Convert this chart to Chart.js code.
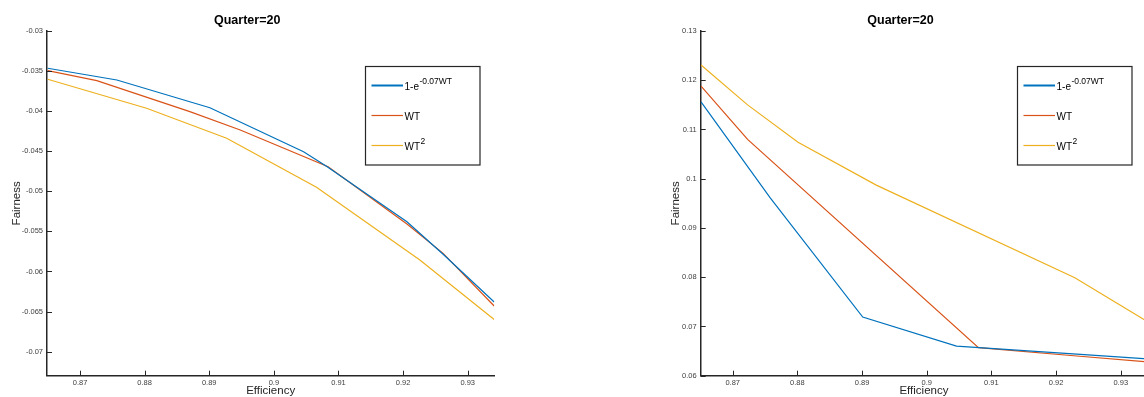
<!DOCTYPE html>
<html><head><meta charset="utf-8">
<script src="https://cdn.jsdelivr.net/npm/chart.js@4"></script>
<style>
html,body{margin:0;padding:0;background:#fff;overflow:hidden;width:1144px;height:397px;position:relative}
canvas{position:absolute;top:0}
#c1{left:0}
#c2{left:572px}
</style></head><body>
<canvas id="c1" width="572" height="397"></canvas>
<canvas id="c2" width="600" height="397"></canvas>
<script>
// ---- text ----
const chartTitle = 'Quarter=20';
const xAxisTitle = 'Efficiency';
const yAxisTitle = 'Fairness';
const seriesLabels = ['1-e^-0.07WT', 'WT', 'WT^2'];
const legendBase = ['1-e', 'WT', 'WT'];
const legendSup = ['-0.07WT', '', '2'];
const seriesColors = ['#0072BD', '#D95319', '#EDB120'];

// ---- ticks ----
const xTicks = [0.87, 0.88, 0.89, 0.90, 0.91, 0.92, 0.93];
const leftYTicks = [-0.07, -0.065, -0.06, -0.055, -0.05, -0.045, -0.04, -0.035, -0.03];
const rightYTicks = [0.06, 0.07, 0.08, 0.09, 0.10, 0.11, 0.12, 0.13];

// ---- left panel data ----
const leftExpX = [0.8650, 0.8757, 0.8901, 0.9046, 0.9082, 0.9206, 0.9262, 0.9341];
const leftExpY = [-0.03465, -0.03611, -0.03957, -0.04506, -0.04690, -0.05379, -0.05785, -0.06380];
const leftWtX  = [0.8650, 0.8726, 0.8870, 0.8948, 0.9084, 0.9206, 0.9262, 0.9341];
const leftWtY  = [-0.03495, -0.03620, -0.04006, -0.04235, -0.04693, -0.05408, -0.05774, -0.06430];
const leftWt2X = [0.8650, 0.8803, 0.8927, 0.9066, 0.9226, 0.9341];
const leftWt2Y = [-0.03602, -0.03964, -0.04338, -0.04950, -0.05857, -0.06600];

// ---- right panel data ----
const rightExpX = [0.8651, 0.8758, 0.8901, 0.9046, 0.9232, 0.9341];
const rightExpY = [0.1156, 0.0961, 0.0719, 0.0660, 0.0644, 0.0634];
const rightWtX  = [0.8651, 0.8723, 0.9080, 0.9232, 0.9341];
const rightWtY  = [0.1188, 0.1080, 0.0657, 0.0640, 0.0628];
const rightWt2X = [0.8651, 0.8723, 0.8801, 0.8922, 0.9229, 0.9341];
const rightWt2Y = [0.1231, 0.1150, 0.1074, 0.0987, 0.0799, 0.0710];

const FONT = '"Liberation Sans", Arial, Helvetica, sans-serif';
const AXIS = '#262626';
const fmt = v => String(parseFloat(Number(v).toFixed(4)));

const inwardTicks = {
  id: 'inwardTicks',
  afterDraw(chart) {
    const ctx = chart.ctx, a = chart.chartArea, xs = chart.scales.x, ys = chart.scales.y;
    ctx.save();
    ctx.strokeStyle = AXIS; ctx.lineWidth = 1;
    xs.ticks.forEach(t => {
      const p = Math.round(xs.getPixelForValue(t.value)) + 0.5;
      ctx.beginPath(); ctx.moveTo(p, a.bottom); ctx.lineTo(p, a.bottom - 5); ctx.stroke();
    });
    ys.ticks.forEach(t => {
      const p = Math.round(ys.getPixelForValue(t.value)) + 0.5;
      ctx.beginPath(); ctx.moveTo(a.left, p); ctx.lineTo(a.left + 5, p); ctx.stroke();
    });
    ctx.restore();
  }
};

const legendBox = {
  id: 'legendBox',
  afterDraw(chart) {
    const ctx = chart.ctx, a = chart.chartArea;
    const w = 114.5, h = 98.5;
    const x0 = Math.round(a.right - 15.3 - w) + 0.5, y0 = Math.round(a.top + 34.5) + 0.5;
    ctx.save();
    ctx.fillStyle = '#fff'; ctx.fillRect(x0, y0, w, h);
    ctx.strokeStyle = AXIS; ctx.lineWidth = 1.2; ctx.strokeRect(x0, y0, w, h);
    chart.data.datasets.forEach((ds, i) => {
      const y = y0 + 19 + 30 * i;
      ctx.strokeStyle = ds.borderColor; ctx.lineWidth = i === 0 ? 2 : 1.2;
      ctx.beginPath(); ctx.moveTo(x0 + 6, y); ctx.lineTo(x0 + 37.5, y); ctx.stroke();
      ctx.fillStyle = '#000'; ctx.textAlign = 'left'; ctx.textBaseline = 'alphabetic';
      ctx.font = '10px ' + FONT;
      ctx.fillText(legendBase[i], x0 + 39, y + 4);
      const bw = ctx.measureText(legendBase[i]).width;
      if (legendSup[i]) {
        ctx.font = '8.5px ' + FONT;
        ctx.fillText(legendSup[i], x0 + 39 + bw + 0.5, y - 1.5);
      }
    });
    ctx.restore();
  }
};

function makeChart(id, xs, ys, yTicks, xMin, xMax, yMin, yMax, padLeft, padRight, yTitlePad) {
  const datasets = xs.map((xArr, k) => ({
    label: seriesLabels[k],
    data: xArr.map((x, i) => ({ x: x, y: ys[k][i] })),
    showLine: true, borderColor: seriesColors[k], backgroundColor: seriesColors[k],
    borderWidth: 1.2, pointRadius: 0, tension: 0, fill: false
  }));
  return new Chart(document.getElementById(id), {
    type: 'scatter',
    data: { datasets: datasets },
    options: {
      responsive: false, animation: false, devicePixelRatio: 1,
      layout: { padding: { left: padLeft, right: padRight, top: 0, bottom: 0 } },
      plugins: {
        legend: { display: false }, tooltip: { enabled: false },
        title: { display: true, text: chartTitle, color: '#000',
          font: { family: FONT, size: 12.5, weight: 'bold' }, padding: { top: 13.5, bottom: 2.5 } }
      },
      scales: {
        x: {
          type: 'linear', min: xMin, max: xMax,
          afterBuildTicks: s => { s.ticks = xTicks.map(v => ({ value: v })); },
          afterFit: s => { s.height = 21.3; },
          grid: { drawOnChartArea: false, drawTicks: false },
          border: { color: AXIS, width: 1.5 },
          ticks: { padding: 3, color: '#404040', font: { family: FONT, size: 7.5 }, callback: v => fmt(v), maxRotation: 0 },
          title: { display: true, text: xAxisTitle, color: AXIS, font: { family: FONT, size: 11.5, lineHeight: 1 }, padding: { top: 0, bottom: 0 } }
        },
        y: {
          type: 'linear', min: yMin, max: yMax,
          afterBuildTicks: s => { s.ticks = yTicks.map(v => ({ value: v })); },
          afterFit: s => { s.width = 47; },
          grid: { drawOnChartArea: false, drawTicks: false },
          border: { color: AXIS, width: 1.5 },
          ticks: { padding: 4, color: '#404040', font: { family: FONT, size: 7.5 }, callback: v => fmt(v) },
          title: { display: true, text: yAxisTitle, color: AXIS, font: { family: FONT, size: 11.5 }, padding: { top: yTitlePad, bottom: 0 } }
        }
      }
    },
    plugins: [inwardTicks, legendBox]
  });
}

makeChart('c1', [leftExpX, leftWtX, leftWt2X], [leftExpY, leftWtY, leftWt2Y], leftYTicks,
  0.86489, 0.93412, -0.073, -0.03, 0, 77.7, 10.3);
makeChart('c2', [rightExpX, rightWtX, rightWt2X], [rightExpY, rightWtY, rightWt2Y], rightYTicks,
  0.86505, 0.93409, 0.06, 0.13, 81.7, 24.8, 15.4);
</script>
</body></html>
